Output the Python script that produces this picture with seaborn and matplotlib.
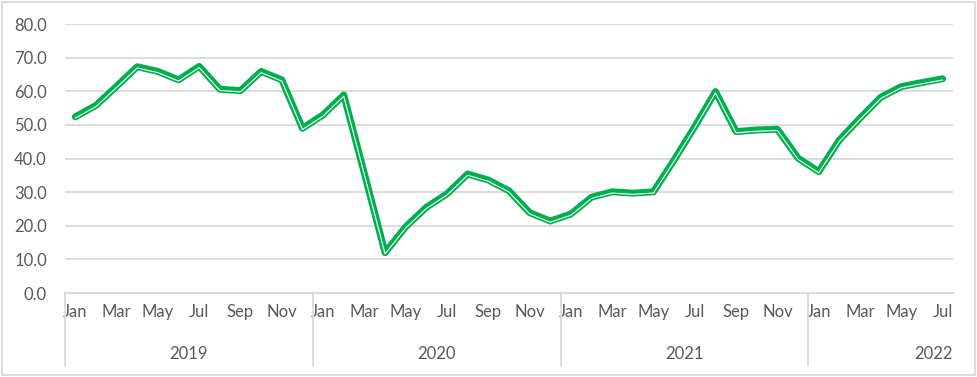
import numpy as np
import pandas as pd
import seaborn as sns
import matplotlib.pyplot as plt
import matplotlib.transforms as mtransforms
from matplotlib.patches import Rectangle

months = ["Jan", "Feb", "Mar", "Apr", "May", "Jun",
          "Jul", "Aug", "Sep", "Oct", "Nov", "Dec"]
years = ["2019", "2020", "2021", "2022"]
months_per_year = [12, 12, 12, 7]

values_2019 = [52.4, 55.8, 61.5, 67.3, 65.9, 63.4, 67.4, 60.6, 60.2, 65.9, 63.4, 49.0]
values_2020 = [53.0, 58.9, 35.5, 12.0, 19.7, 25.5, 29.5, 35.4, 33.6, 30.4, 23.9, 21.4]
values_2021 = [23.5, 28.5, 30.1, 29.7, 30.1, 39.6, 49.5, 59.9, 48.0, 48.5, 48.7, 40.1]
values_2022 = [36.1, 45.5, 52.0, 58.2, 61.4, 62.6, 63.7]

series = values_2019 + values_2020 + values_2021 + values_2022
labels = [m for n in months_per_year for m in months[:n]]
df = pd.DataFrame({"idx": np.arange(len(series)), "month": labels, "value": series})

sns.set_style("white")
plt.rcParams["font.family"] = ["Lato", "DejaVu Sans"]
text_color = "#595959"
grid_color = "#D9D9D9"
green = "#00B050"
fs = 12

fig = plt.figure(figsize=(9.77, 3.77), dpi=100)
ax = fig.add_axes([0.0665, 0.2228, 0.9089, 0.7135])

# double line: thick green with thin white core sitting low in the stroke
sns.lineplot(data=df, x="idx", y="value", ax=ax, color=green, linewidth=5.0)
shift = mtransforms.offset_copy(ax.transData, fig=fig, x=0, y=-0.9, units="points")
ax.plot(df["idx"], df["value"], color="white", linewidth=0.8, transform=shift)

ax.set_xlim(-0.5, len(series) - 0.5)
ax.set_ylim(0, 80)
ax.set_yticks(np.arange(0, 81, 10))
ax.set_yticklabels([f"{v:.1f}" for v in np.arange(0, 81, 10)])
ax.yaxis.grid(True, color=grid_color, linewidth=1.3)
ax.set_axisbelow(True)

tick_idx = df["idx"][::2]
ax.set_xticks(tick_idx)
ax.set_xticklabels(df["month"][::2])
ax.tick_params(axis="both", length=0, labelsize=fs, colors=text_color)
ax.tick_params(axis="x", pad=8)
ax.tick_params(axis="y", pad=13)
ax.set_xlabel("")
ax.set_ylabel("")

for side in ["top", "right", "left"]:
    ax.spines[side].set_visible(False)
ax.spines["bottom"].set_color(grid_color)
ax.spines["bottom"].set_linewidth(1.3)

# year level of the category axis
trans = mtransforms.blended_transform_factory(ax.transData, ax.transAxes)
bounds = np.concatenate([[0], np.cumsum(months_per_year)]) - 0.5
for b in bounds[:-1]:
    ax.plot([b, b], [0, -0.272], color=grid_color, linewidth=1.3,
            transform=trans, clip_on=False)
for i, yr in enumerate(years):
    if i < len(years) - 1:
        ax.text((bounds[i] + bounds[i + 1]) / 2, -0.225, yr, transform=trans,
                ha="center", va="center", fontsize=fs, color=text_color)
    else:
        ax.text(bounds[i + 1], -0.225, yr, transform=trans,
                ha="right", va="center", fontsize=fs, color=text_color)

fig.patches.append(Rectangle((0.002, 0.004), 0.996, 0.992, transform=fig.transFigure,
                             fill=False, edgecolor=grid_color, linewidth=1.3))

fig.savefig("out.png", dpi=100)
